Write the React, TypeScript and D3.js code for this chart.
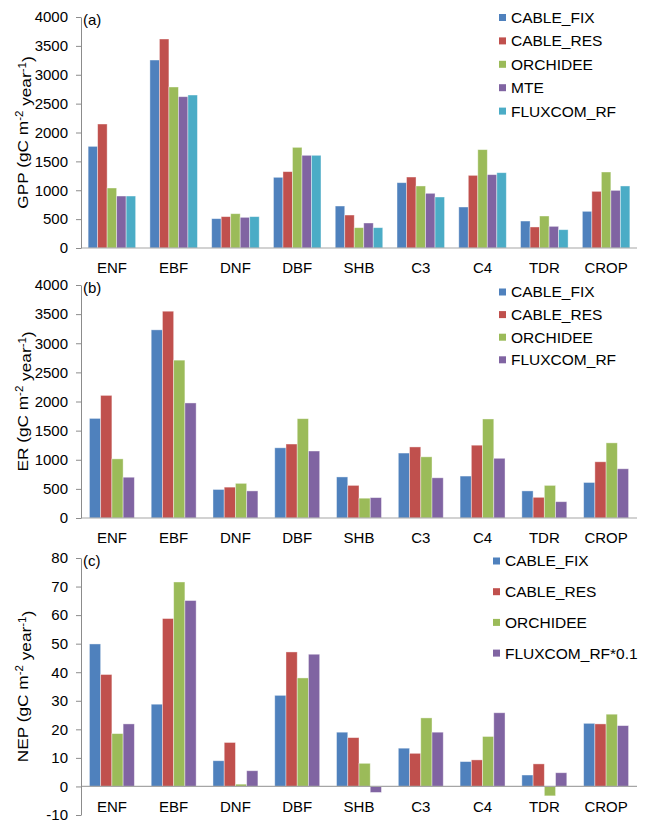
import * as d3 from "d3";
import React, { useEffect, useRef } from "react";

// categories (plant functional types)
const categories = ["ENF", "EBF", "DNF", "DBF", "SHB", "C3", "C4", "TDR", "CROP"];

// (a) GPP
const gppSeries = ["CABLE_FIX", "CABLE_RES", "ORCHIDEE", "MTE", "FLUXCOM_RF"];
const gppCableFix = [1760, 3255, 508, 1224, 727, 1131, 710, 467, 635];
const gppCableRes = [2147, 3619, 543, 1322, 571, 1229, 1258, 364, 981];
const gppOrchidee = [1039, 2788, 594, 1743, 352, 1074, 1703, 554, 1316];
const gppMte = [900, 2620, 531, 1605, 433, 947, 1270, 375, 998];
const gppFluxcom = [900, 2649, 543, 1605, 352, 883, 1304, 317, 1074];

// (b) ER
const erSeries = ["CABLE_FIX", "CABLE_RES", "ORCHIDEE", "FLUXCOM_RF"];
const erCableFix = [1710, 3230, 490, 1205, 705, 1115, 720, 465, 610];
const erCableRes = [2105, 3550, 530, 1270, 560, 1220, 1250, 355, 965];
const erOrchidee = [1015, 2710, 595, 1705, 340, 1050, 1700, 560, 1290];
const erFluxcom = [700, 1975, 465, 1150, 350, 690, 1025, 280, 845];

// (c) NEP
const nepSeries = ["CABLE_FIX", "CABLE_RES", "ORCHIDEE", "FLUXCOM_RF*0.1"];
const nepCableFix = [49.9, 28.8, 9.0, 31.9, 19.0, 13.4, 8.7, 4.0, 22.1];
const nepCableRes = [39.2, 58.8, 15.4, 47.1, 17.1, 11.6, 9.3, 7.9, 21.9];
const nepOrchidee = [18.5, 71.6, 0.8, 38.0, 8.1, 24.0, 17.5, -3.3, 25.3];
const nepFluxcom = [21.9, 65.1, 5.5, 46.3, -2.1, 19.0, 25.8, 4.8, 21.3];

const colors = ["#4F81BD", "#C0504D", "#9BBB59", "#8064A2", "#4BACC6"];
const font = "'Liberation Sans', Arial, sans-serif";

const panels = [
  {
    tag: "(a)", yName: "GPP", series: gppSeries,
    values: [gppCableFix, gppCableRes, gppOrchidee, gppMte, gppFluxcom],
    domain: [0, 4000], step: 500, top: 17, bottom: 248, catY: 268,
    legX: 499, legY: 17.5, legGap: 23.4,
  },
  {
    tag: "(b)", yName: "ER", series: erSeries,
    values: [erCableFix, erCableRes, erOrchidee, erFluxcom],
    domain: [0, 4000], step: 500, top: 285, bottom: 518, catY: 538,
    legX: 499, legY: 292, legGap: 22.6,
  },
  {
    tag: "(c)", yName: "NEP", series: nepSeries,
    values: [nepCableFix, nepCableRes, nepOrchidee, nepFluxcom],
    domain: [-10, 80], step: 10, top: 558, bottom: 815, catY: 807,
    legX: 493, legY: 561, legGap: 30.7,
  },
];

export default function App() {
  const ref = useRef(null);

  useEffect(() => {
    const svg = d3.select(ref.current);
    svg.selectAll("*").remove();

    const left = 81, right = 637;

    panels.forEach((p) => {
      const g = svg.append("g");
      const y = d3.scaleLinear().domain(p.domain).range([p.bottom, p.top]);
      const x0 = d3.scaleBand().domain(categories).range([left, right]);
      const x1 = d3
        .scaleBand()
        .domain(p.series)
        .range([0, x0.bandwidth()])
        .paddingOuter(0.75);

      // bars
      p.series.forEach((s, si) => {
        g.selectAll(null)
          .data(p.values[si])
          .enter()
          .append("rect")
          .attr("x", (d, i) => x0(categories[i]) + x1(s))
          .attr("width", x1.bandwidth())
          .attr("y", (d) => Math.min(y(d), y(0)))
          .attr("height", (d) => Math.abs(y(d) - y(0)))
          .attr("fill", colors[si])
          .attr("stroke", "#ffffff")
          .attr("stroke-opacity", 0.5)
          .attr("stroke-width", 0.8);
      });

      // zero line
      g.append("line")
        .attr("x1", left).attr("x2", right)
        .attr("y1", y(0)).attr("y2", y(0))
        .attr("stroke", "#a6a6a6").attr("stroke-width", 1.2);

      // y axis
      const ticks = d3.range(p.domain[0], p.domain[1] + p.step / 2, p.step);
      const axis = g.append("g").attr("transform", `translate(${left},0)`)
        .call(
          d3.axisLeft(y)
            .tickValues(ticks)
            .tickFormat((d) => String(d))
            .tickSize(5)
            .tickSizeOuter(0)
            .tickPadding(8)
        );
      axis.select(".domain").attr("stroke", "#8c8c8c");
      axis.selectAll(".tick line").attr("stroke", "#8c8c8c");
      axis.selectAll(".tick text")
        .attr("font-family", font).attr("font-size", 15).attr("fill", "#000");

      // category labels
      g.selectAll(null)
        .data(categories)
        .enter()
        .append("text")
        .attr("x", (d) => x0(d) + x0.bandwidth() / 2)
        .attr("y", p.catY)
        .attr("dy", "0.35em")
        .attr("text-anchor", "middle")
        .attr("font-family", font).attr("font-size", 15)
        .text((d) => d);

      // panel tag
      g.append("text")
        .attr("x", left + 2).attr("y", p.top + 3)
        .attr("dy", "0.35em")
        .attr("font-family", font).attr("font-size", 15)
        .text(p.tag);

      // y title (stretched along its length like the original)
      const t = g.append("text")
        .attr("transform", `translate(23,${(p.top + p.bottom) / 2}) rotate(-90) scale(1.15,1)`)
        .attr("text-anchor", "middle")
        .attr("dy", "0.35em")
        .attr("font-family", font).attr("font-size", 15);
      t.append("tspan").text(`${p.yName} (gC m`);
      t.append("tspan").attr("font-size", 10).attr("dy", "-0.5em").text("-2");
      t.append("tspan").attr("dy", "0.5em").text(" year");
      t.append("tspan").attr("font-size", 10).attr("dy", "-0.5em").text("-1");
      t.append("tspan").attr("dy", "0.5em").text(")");

      // legend
      p.series.forEach((s, si) => {
        const ly = p.legY + si * p.legGap;
        g.append("rect")
          .attr("x", p.legX).attr("y", ly - 3.5)
          .attr("width", 7).attr("height", 7)
          .attr("fill", colors[si]);
        g.append("text")
          .attr("x", p.legX + 12).attr("y", ly)
          .attr("dy", "0.35em")
          .attr("font-family", font).attr("font-size", 15.5)
          .text(s);
      });
    });
  }, []);

  return (
    <svg
      ref={ref}
      width={645}
      height={823}
      style={{ position: "absolute", left: 0, top: 0, background: "#fff" }}
    ></svg>
  );
}
